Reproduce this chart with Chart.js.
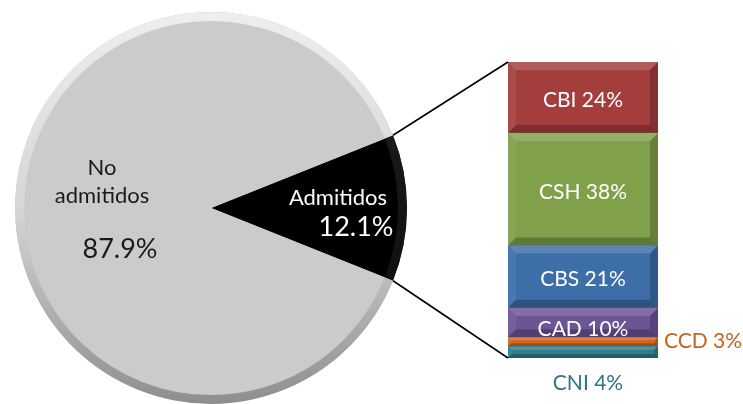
<!DOCTYPE html>
<html><head><meta charset="utf-8">
<script src="https://cdn.jsdelivr.net/npm/chart.js@4.4.1/dist/chart.umd.min.js"></script>
<style>
html,body{margin:0;padding:0;background:#fff;}
#wrap{position:relative;width:743px;height:404px;overflow:hidden;}
canvas{position:absolute;left:0;top:0;}
</style></head><body>
<div id="wrap"><canvas id="pie" width="743" height="404"></canvas><canvas id="bar" width="743" height="404"></canvas></div>
<script>
// ---- data ----
const pieLabels = ['Admitidos', 'No admitidos'];
const pieValues = [12.1, 87.9];
const barCategories = ['CNI', 'CCD', 'CAD', 'CBS', 'CSH', 'CBI'];
const barValues = [4, 3, 10, 21, 38, 24];

// ---- styles ----
const FONT = 'Lato, "Open Sans", sans-serif';
const pieColors = ['#000000', '#cbcbcb'];
const barColors = ['#2f7d8d', '#d2671c', '#6c5495', '#3d6ea8', '#80a04a', '#a33e3d'];
const labelMode = ['below', 'right', 'inside', 'inside', 'inside', 'inside'];
const labelColors = ['#2f7485', '#c4641e', '#ffffff', '#ffffff', '#ffffff', '#ffffff'];

const pieTotal = pieValues.reduce((a, b) => a + b, 0);

const pieDecor = {
  id: 'pieDecor',
  afterDatasetsDraw(chart) {
    const ctx = chart.ctx;
    const meta = chart.getDatasetMeta(0);
    meta.data.forEach((arc, i) => {
      const cx = arc.x, cy = arc.y, r = arc.outerRadius;
      ctx.save();
      ctx.beginPath();
      ctx.moveTo(cx, cy);
      ctx.arc(cx, cy, r, arc.startAngle, arc.endAngle);
      ctx.closePath();
      ctx.clip();
      const g = ctx.createLinearGradient(0, cy - r, 0, cy + r);
      if (i === 1) {
        g.addColorStop(0, '#eeeeee');
        g.addColorStop(0.5, '#d6d6d6');
        g.addColorStop(1, '#8e8e8e');
      } else {
        g.addColorStop(0, '#202020');
        g.addColorStop(1, '#0a0a0a');
      }
      ctx.strokeStyle = g;
      ctx.lineWidth = 9;
      ctx.beginPath();
      ctx.arc(cx, cy, r - 4.5, arc.startAngle, arc.endAngle);
      ctx.stroke();
      ctx.restore();
    });
    const a = meta.data[0], b = meta.data[1];
    ctx.save();
    ctx.textAlign = 'center';
    ctx.textBaseline = 'middle';
    ctx.fillStyle = '#1a1a1a';
    ctx.font = '22px ' + FONT;
    const parts = pieLabels[1].split(' ');
    ctx.fillText(parts[0], b.x - 109, b.y - 40);
    ctx.fillText(parts.slice(1).join(' '), b.x - 109, b.y - 12);
    ctx.font = '27px ' + FONT;
    ctx.fillText(pieValues[1].toFixed(1) + '%', b.x - 91, b.y + 41);
    ctx.fillStyle = '#ffffff';
    ctx.font = '22px ' + FONT;
    ctx.fillText(pieLabels[0], a.x + 127, a.y - 10);
    ctx.font = '27px ' + FONT;
    ctx.fillText(pieValues[0].toFixed(1) + '%', a.x + 145, a.y + 19);
    ctx.restore();
  }
};

const pieChart = new Chart(document.getElementById('pie'), {
  type: 'pie',
  data: {
    labels: pieLabels,
    datasets: [{ data: pieValues, backgroundColor: pieColors, borderWidth: 0 }]
  },
  options: {
    responsive: false,
    animation: false,
    rotation: 90 - (pieValues[0] / pieTotal) * 180,
    layout: { padding: { left: 15, top: 12, right: 336, bottom: 0 } },
    plugins: { legend: { display: false }, tooltip: { enabled: false } }
  },
  plugins: [pieDecor]
});

const barDecor = {
  id: 'barDecor',
  afterDatasetsDraw(chart) {
    const ctx = chart.ctx;
    const els = chart.data.datasets.map((d, i) => chart.getDatasetMeta(i).data[0]);
    els.forEach(el => {
      const x0 = el.x - el.width / 2, x1 = el.x + el.width / 2;
      const y0 = Math.min(el.y, el.base), y1 = Math.max(el.y, el.base);
      const bv = Math.min(8, (y1 - y0) / 3);
      const poly = (pts, fill) => {
        ctx.beginPath();
        ctx.moveTo(pts[0][0], pts[0][1]);
        pts.slice(1).forEach(p => ctx.lineTo(p[0], p[1]));
        ctx.closePath();
        ctx.fillStyle = fill;
        ctx.fill();
      };
      ctx.save();
      poly([[x0, y0], [x1, y0], [x1 - bv, y0 + bv], [x0 + bv, y0 + bv]], 'rgba(255,255,255,0.16)');
      poly([[x0, y0], [x0 + bv, y0 + bv], [x0 + bv, y1 - bv], [x0, y1]], 'rgba(255,255,255,0.07)');
      poly([[x1, y0], [x1, y1], [x1 - bv, y1 - bv], [x1 - bv, y0 + bv]], 'rgba(0,0,0,0.20)');
      poly([[x0, y1], [x0 + bv, y1 - bv], [x1 - bv, y1 - bv], [x1, y1]], 'rgba(0,0,0,0.24)');
      ctx.restore();
    });
    ctx.save();
    ctx.font = '21px ' + FONT;
    ctx.textBaseline = 'middle';
    els.forEach((el, i) => {
      const txt = barCategories[i] + ' ' + barValues[i] + '%';
      const x1 = el.x + el.width / 2;
      const y0 = Math.min(el.y, el.base), y1 = Math.max(el.y, el.base);
      ctx.fillStyle = labelColors[i];
      if (labelMode[i] === 'inside') {
        ctx.textAlign = 'center';
        const shift = (y1 - y0) < 40 ? 7 : 3;
        ctx.fillText(txt, el.x, (y0 + y1) / 2 + shift);
      } else if (labelMode[i] === 'right') {
        ctx.textAlign = 'left';
        ctx.fillText(txt, x1 + 6, (y0 + y1) / 2);
      } else {
        ctx.textAlign = 'center';
        ctx.fillText(txt, el.x + 5, chart.chartArea.bottom + 25);
      }
    });
    ctx.restore();
  },
  afterDraw(chart) {
    const ctx = chart.ctx;
    const arc = pieChart.getDatasetMeta(0).data[0];
    const n = chart.data.datasets.length;
    const topEl = chart.getDatasetMeta(n - 1).data[0];
    const botEl = chart.getDatasetMeta(0).data[0];
    const left = topEl.x - topEl.width / 2;
    const r = arc.outerRadius;
    const p1 = [arc.x + r * Math.cos(arc.startAngle), arc.y + r * Math.sin(arc.startAngle)];
    const p2 = [arc.x + r * Math.cos(arc.endAngle), arc.y + r * Math.sin(arc.endAngle)];
    ctx.save();
    ctx.strokeStyle = '#000';
    ctx.lineWidth = 1.6;
    ctx.beginPath();
    ctx.moveTo(p1[0], p1[1]);
    ctx.lineTo(left, topEl.y);
    ctx.moveTo(p2[0], p2[1]);
    ctx.lineTo(left, botEl.base);
    ctx.stroke();
    ctx.restore();
  }
};

new Chart(document.getElementById('bar'), {
  type: 'bar',
  data: {
    labels: ['Admitidos'],
    datasets: barCategories.map((c, i) => ({
      label: c,
      data: [barValues[i]],
      backgroundColor: barColors[i],
      borderWidth: 0,
      barPercentage: 1,
      categoryPercentage: 1
    }))
  },
  options: {
    responsive: false,
    animation: false,
    layout: { padding: { left: 508, right: 85, top: 62, bottom: 46 } },
    scales: {
      x: { display: false, stacked: true },
      y: { display: false, stacked: true, min: 0, max: 100 }
    },
    plugins: { legend: { display: false }, tooltip: { enabled: false } }
  },
  plugins: [barDecor]
});
</script>
</body></html>
